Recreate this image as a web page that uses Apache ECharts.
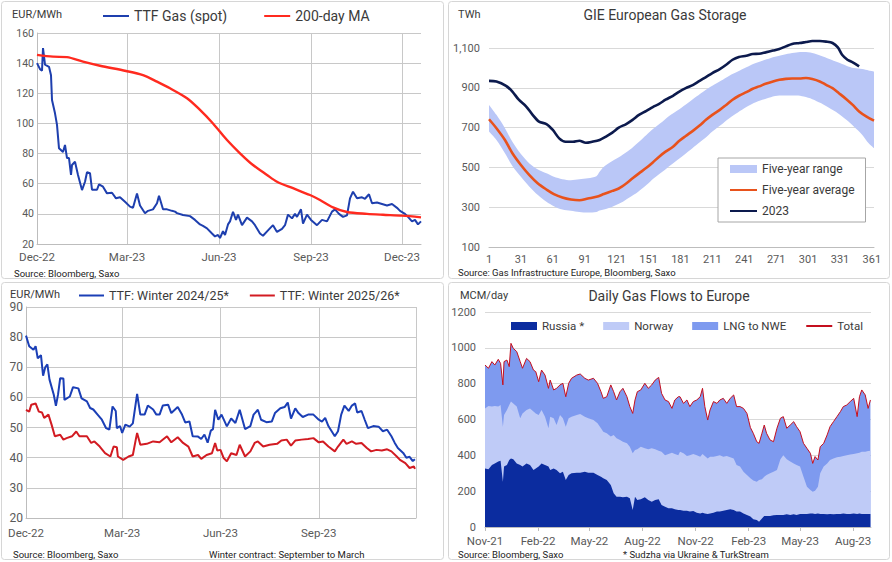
<!DOCTYPE html>
<html><head><meta charset="utf-8">
<script src="https://cdn.jsdelivr.net/npm/echarts@6/dist/echarts.min.js"></script>
<style>html,body{margin:0;padding:0;background:#fff}#c{width:892px;height:562px}</style>
</head><body><div id="c"></div>
<script>
// ---------- Panel 1: TTF spot vs 200-day MA (x = days since 1 Dec 2022) ----------
const p1TickDays = [0, 90, 182, 274, 365];
const p1TickLabels = ['Dec-22', 'Mar-23', 'Jun-23', 'Sep-23', 'Dec-23'];
const ttfSpot = [[0,140],[3,136],[5,135],[6,150],[8,139],[12,137.6],[14,132],[15,115.5],[18,106.7],[20,99],[22,83.5],[26,81],[28,85.7],[30,77],[32,77],[34,65.8],[35,72.4],[38,74.6],[41,65.8],[45,55.8],[48,61.3],[50,67.6],[53,67],[55,56],[60,56],[62,59.6],[66,58],[70,53.6],[75,54],[79,50.3],[83,51],[88,48],[93,44.8],[96,44],[100,53.5],[103,45.5],[108,40.4],[111,42],[116,43],[120,47],[122,52],[126,43],[130,43],[135,42],[138,41.5],[140,40.5],[146,39.2],[153,38.5],[158,36],[163,33],[166,32],[170,30.4],[175,27],[178,25],[181,26],[183,24],[186,28.5],[188,26],[191,33],[193,35],[196,41.4],[199,36],[201,39.5],[205,32.5],[210,37.5],[215,35],[218,32.5],[223,27],[226,25.5],[231,29],[236,32.5],[240,28],[245,30],[248,32.5],[251,39.5],[255,37],[258,40],[260,38],[264,43],[266,33.5],[270,39.5],[274,36],[280,32.5],[285,36],[290,35],[295,41.5],[298,43],[302,40],[306,38],[310,39],[313,50.3],[316,54.7],[320,50.3],[325,51],[328,50],[332,53],[335,47],[340,47.5],[345,46.5],[350,45.5],[355,46.5],[360,44],[363,42],[368,40],[371,38],[375,35],[378,36],[381,33],[384,35]];
const ma200 = [[0,145.5],[16,144.3],[30,144],[46,141],[63,138.3],[89,134.8],[106,132],[120,127.7],[133,123.3],[150,116.7],[163,109],[176,100],[190,89],[203,80.2],[216,72.4],[230,65.8],[240,61.3],[256,57],[273,52.5],[283,49.2],[296,44.3],[310,41.2],[330,40],[346,39.4],[365,38.8],[384,37.7]];

// ---------- Panel 2: GIE storage (x = day of year) ----------
const storageTicks = [1,31,61,91,121,151,181,211,241,271,301,331,361];
const bandDays = [1,8,16,23,31,39,47,55,62,70,78,86,94,102,105,109,117,125,133,141,149,156,164,172,180,188,196,204,211,219,227,235,243,250,258,266,274,282,290,297,305,313,321,329,337,344,352,358,363];
const rangeHigh = [814,764,697,629,567,520,490,470,453,441,436,440,445,456,478,503,532,557,587,624,663,697,730,764,792,823,856,887,910,935,961,982,1003,1021,1036,1050,1061,1071,1078,1080,1075,1061,1045,1028,1011,999,994,987,982];
const rangeLow = [680,638,571,507,453,403,361,327,305,288,282,276,273,276,283,288,302,322,349,377,411,445,478,512,545,579,613,646,680,713,747,776,803,823,840,853,861,861,861,856,843,823,798,772,739,705,663,621,596];
const fiveYearAvg = [[1,742],[8,697],[16,638],[23,571],[31,512],[39,461],[47,419],[55,389],[62,366],[70,349],[78,339],[86,335],[94,344],[102,352],[109,366],[117,382],[123,394],[130,419],[136,445],[142,470],[149,498],[155,525],[161,554],[167,579],[174,604],[180,634],[186,658],[193,685],[199,710],[205,739],[211,764],[218,789],[224,814],[230,840],[236,860],[243,878],[249,895],[255,907],[261,920],[268,932],[274,940],[280,945],[286,947],[293,947],[299,949],[305,944],[312,932],[318,915],[324,898],[330,873],[337,843],[343,814],[349,781],[356,755],[363,735]];
const storage2023 = [[1,935],[8,932],[17,910],[23,881],[29,840],[36,806],[42,764],[48,730],[55,718],[61,688],[67,646],[73,629],[80,629],[86,634],[92,624],[98,629],[105,638],[111,655],[117,675],[123,700],[130,718],[136,739],[142,764],[149,784],[155,803],[161,819],[167,840],[174,860],[180,881],[186,898],[193,915],[199,935],[205,954],[211,974],[218,994],[224,1016],[230,1041],[236,1055],[243,1061],[249,1070],[255,1071],[261,1078],[268,1087],[274,1095],[280,1108],[286,1120],[293,1125],[299,1130],[305,1135],[312,1135],[318,1132],[324,1125],[329,1103],[333,1066],[338,1041],[343,1028],[349,1008]];

// ---------- Panel 3: TTF winter contracts (x = days since 1 Dec 2022) ----------
const p3GridDays = [0, 90, 182, 274, 365];
const p3TickDays = [0, 90, 182, 274];
const p3TickLabels = ['Dec-22', 'Mar-23', 'Jun-23', 'Sep-23'];
const winter2425 = [[0,80.5],[3,77],[7,75.8],[9,77],[11,73],[14,74],[16,67.2],[18,70],[20,71],[22,65.9],[26,60.9],[28,57.2],[30,61],[32,66.4],[35,66.3],[36,59.2],[41,60.3],[44,63.4],[49,63],[52,59.7],[57,58.7],[60,56.5],[63,56],[67,54.3],[71,52.6],[75,49.8],[78,49.3],[81,57],[84,55.5],[85,49.8],[88,50.5],[90,48.2],[93,51],[97,50.3],[100,51.4],[104,61.2],[107,54.3],[111,54.3],[114,57.3],[119,56],[122,54.3],[125,54.3],[128,57.3],[133,57.6],[136,54.8],[142,56.8],[146,54.3],[149,51.7],[153,52],[156,47.1],[161,47],[164,46.2],[167,47.7],[170,45],[173,49],[175,49.5],[177,55.9],[180,52.6],[183,54.3],[188,50.4],[192,53],[196,51.5],[200,55.9],[205,49.5],[210,50.5],[213,54.3],[217,55.9],[220,52.6],[225,51.8],[230,52],[233,54.8],[238,56.4],[242,56.8],[245,58.3],[248,53],[252,56.4],[255,54.8],[259,53.5],[264,54.3],[269,54.3],[274,52.6],[277,52],[280,53.2],[283,50.5],[289,47.1],[292,48.8],[295,54.3],[298,57.3],[302,55.5],[305,57.3],[308,58],[310,55],[314,55.5],[317,52.6],[320,49.8],[325,50.5],[330,50.3],[334,48.8],[338,49.3],[342,47.1],[345,45],[348,43.2],[353,41.6],[356,40],[359,40.3],[362,38.9],[364,39.5]];
const winter2526 = [[0,55.9],[3,55.3],[5,57.6],[9,58],[12,55.3],[15,55],[17,53.2],[21,54.3],[24,50.9],[27,47.1],[32,47.6],[35,46],[38,46.5],[43,47.1],[47,48.7],[50,47.1],[57,47.1],[61,44.9],[64,45.4],[69,43.7],[74,41.5],[79,40.4],[82,43.7],[85,43.5],[86,40.4],[91,39.3],[96,40.4],[100,40.9],[103,46.5],[104,48.2],[107,44.3],[113,44.6],[119,45.4],[125,45.1],[132,47.1],[136,45.1],[142,46.8],[147,44.9],[152,43.7],[156,40.4],[161,40.9],[164,39.6],[169,40.9],[174,41.5],[177,44.9],[179,42.4],[182,42.6],[185,39.9],[188,38.8],[192,41.5],[197,40.9],[200,44.3],[205,40.4],[210,42.1],[214,44.9],[217,45.4],[222,43.7],[228,44.3],[235,44.6],[239,45.7],[244,46],[248,44],[252,45.7],[258,46],[264,46.2],[269,46.5],[274,45.1],[278,45.4],[283,43.7],[289,42.1],[292,43.7],[297,46],[300,44.6],[305,45.4],[309,44.6],[314,44.9],[319,43.2],[323,42.1],[328,42.6],[333,42.4],[338,42.8],[342,42.1],[347,40.4],[350,39.3],[355,38.2],[359,36.6],[363,37.1],[364,36.3]];

// ---------- Panel 4: daily gas flows (x = days since 1 Nov 2021) ----------
const flowTickDays = [0, 92, 181, 273, 365, 457, 546, 638];
const flowTickLabels = ['Nov-21','Feb-22','May-22','Aug-22','Nov-22','Feb-23','May-23','Aug-23'];
const flowDays = [0,6,12,17,23,27,31,33,38,42,45,49,55,61,65,72,78,84,88,93,98,104,110,113,119,124,130,135,140,145,150,159,165,173,179,188,195,201,205,211,218,223,228,234,239,246,251,256,260,264,270,277,283,289,295,301,306,312,318,324,329,335,
  338,344,350,355,361,367,373,377,381,386,390,396,402,407,413,419,425,431,436,442,448,454,460,465,471,475,480,484,488,494,500,506,512,517,523,529,535,540,546,552,558,564,568,572,577,581,587,593,598,604,610,616,621,627,633,639,645,649,653,659,664,668];
const flowRussia = [327,322,346,355,365,370,253,337,346,374,383,378,355,346,337,355,346,318,327,337,355,346,337,318,327,318,300,309,262,290,300,303,303,309,303,303,290,281,272,262,234,188,169,169,166,169,160,95,169,151,155,166,151,141,151,155,123,113,104,104,99,95,
  95,91,91,86,89,80,76,80,76,73,76,80,86,86,91,95,99,95,86,86,76,67,58,43,39,30,48,61,61,61,65,67,67,67,71,67,71,67,73,73,73,76,76,73,76,73,73,71,73,71,73,73,76,73,73,76,73,76,73,73,73,73];
const flowNorway = [335,353,326,320,307,311,307,288,307,307,317,312,317,261,297,298,316,326,307,288,298,270,214,298,280,252,325,298,298,317,316,322,328,307,304,294,289,270,260,261,271,326,326,317,310,298,288,316,261,283,293,273,283,298,283,271,297,287,303,311,308,305,
  325,320,305,314,318,320,316,327,320,310,316,312,310,314,301,301,290,288,260,251,233,223,214,216,214,232,218,220,229,239,244,251,311,333,307,298,284,279,264,208,152,130,121,130,149,227,264,284,301,312,316,319,320,327,332,331,338,339,347,347,351,353];
const flowLng = [242,211,251,229,264,232,233,298,279,214,325,307,307,316,252,288,261,232,233,186,223,232,223,204,158,204,168,195,167,195,214,223,223,214,213,233,223,204,186,204,288,241,214,269,298,260,224,223,279,321,317,363,340,354,386,409,326,309,293,247,302,327,
  307,279,313,272,293,309,335,367,276,214,261,308,294,309,326,294,329,354,326,335,353,344,283,264,223,205,257,288,233,186,167,233,229,216,173,204,233,214,195,186,214,205,158,190,149,148,130,159,186,205,227,252,276,281,295,311,205,312,345,317,238,283];

// ---------- build ----------
const FONT = "Roboto, 'Noto Sans', sans-serif";
const TXT = '#3a3a3a';
const AXC = '#595959';
const GRID_A = '#c8c8c8';
const GRID_B = '#d9d9d9';
const AXLINE = '#bdbdbd';

const zip = (xs, ys) => xs.map((x, i) => [x, ys[i]]);
const lbl = (days, labels) => v => { const i = days.indexOf(v); return i < 0 ? '' : labels[i]; };

// cumulative tops of the flow layers (each layer drawn as an area down to the axis)
const topRussia = flowRussia.slice();
const topNorway = flowRussia.map((r, i) => r + flowNorway[i]);
const topTotal = topNorway.map((n, i) => n + flowLng[i]);

const chart = echarts.init(document.getElementById('c'), null, {renderer: 'svg'});

const txt = (text, x, y, size, align, color) => ({
  type: 'text', x: x, y: y, silent: true,
  style: {text: text, fontSize: size, fontFamily: FONT, fill: color || TXT,
          textAlign: align || 'left', align: align || 'left',
          textVerticalAlign: 'middle', verticalAlign: 'middle'}
});
const box = (x, y, w, h) => ({
  type: 'rect', silent: true, shape: {x: x, y: y, width: w, height: h, r: 3},
  style: {fill: 'none', stroke: '#d6d6d6', lineWidth: 1}
});

const lineSeries = (name, data, color, width, xi, extra) => Object.assign({
  name: name, type: 'line', data: data, xAxisIndex: xi, yAxisIndex: xi,
  symbol: 'none', showSymbol: false, color: color,
  lineStyle: {color: color, width: width}, emphasis: {disabled: true}, silent: true
}, extra || {});

const areaSeries = (name, data, color, xi, extra) => Object.assign({
  name: name, type: 'line', data: data, xAxisIndex: xi, yAxisIndex: xi,
  symbol: 'none', showSymbol: false, color: color,
  lineStyle: {width: 0, color: color}, areaStyle: {color: color, opacity: 1},
  emphasis: {disabled: true}, silent: true
}, extra || {});

const legendBase = {selectedMode: false, padding: 0, itemStyle: {opacity: 0}};

const option = {
  animation: false,
  backgroundColor: '#ffffff',
  textStyle: {fontFamily: FONT},
  grid: [
    {left: 37, top: 33, width: 384, height: 211},
    {left: 489, top: 48, width: 385, height: 199},
    {left: 26, top: 307, width: 390, height: 211},
    {left: 485, top: 312, width: 386, height: 215}
  ],
  xAxis: [
    {gridIndex: 0, type: 'value', min: 0, max: 384,
     axisLine: {show: true, onZero: false, lineStyle: {color: AXLINE}},
     axisTick: {show: false, customValues: p1TickDays},
     axisLabel: {customValues: p1TickDays, formatter: lbl(p1TickDays, p1TickLabels), fontSize: 11.5, color: AXC, margin: 7, fontFamily: FONT},
     splitLine: {show: true, lineStyle: {color: GRID_A}}},
    {gridIndex: 1, type: 'value', min: 1, max: 363,
     axisLine: {show: true, onZero: false, lineStyle: {color: AXLINE}},
     axisTick: {show: false, customValues: storageTicks},
     axisLabel: {customValues: storageTicks, fontSize: 11, color: AXC, margin: 7, fontFamily: FONT},
     splitLine: {show: false}},
    {gridIndex: 2, type: 'value', min: 0, max: 365,
     axisLine: {show: true, onZero: false, lineStyle: {color: AXLINE}},
     axisTick: {show: false, customValues: p3GridDays},
     axisLabel: {customValues: p3TickDays, formatter: lbl(p3TickDays, p3TickLabels), fontSize: 11.5, color: AXC, margin: 9, fontFamily: FONT},
     splitLine: {show: true, lineStyle: {color: GRID_A}}},
    {gridIndex: 3, type: 'value', min: 0, max: 669,
     axisLine: {show: true, onZero: false, lineStyle: {color: AXLINE}},
     axisTick: {show: true, customValues: flowTickDays, length: 4, lineStyle: {color: AXLINE}},
     axisLabel: {customValues: flowTickDays, formatter: lbl(flowTickDays, flowTickLabels), fontSize: 11.5, color: AXC, margin: 8, fontFamily: FONT},
     splitLine: {show: false}}
  ],
  yAxis: [
    {gridIndex: 0, type: 'value', min: 20, max: 160, interval: 20,
     axisLine: {show: true, lineStyle: {color: AXLINE}}, axisTick: {show: false},
     axisLabel: {fontSize: 10.5, color: AXC, margin: 3, fontFamily: FONT},
     splitLine: {lineStyle: {color: GRID_A}}},
    {gridIndex: 1, type: 'value', min: 100, max: 1100, interval: 200,
     axisLine: {show: false}, axisTick: {show: false},
     axisLabel: {fontSize: 11, color: AXC, margin: 9, fontFamily: FONT, formatter: v => v.toLocaleString('en-US')},
     splitLine: {lineStyle: {color: GRID_B}}},
    {gridIndex: 2, type: 'value', min: 20, max: 90, interval: 10,
     axisLine: {show: true, lineStyle: {color: AXLINE}}, axisTick: {show: false},
     axisLabel: {fontSize: 12, color: AXC, margin: 3, fontFamily: FONT},
     splitLine: {lineStyle: {color: GRID_A}}},
    {gridIndex: 3, type: 'value', min: 0, max: 1200, interval: 200,
     axisLine: {show: false}, axisTick: {show: false},
     axisLabel: {fontSize: 11, color: AXC, margin: 9, fontFamily: FONT, formatter: v => String(v)},
     splitLine: {lineStyle: {color: GRID_B}}}
  ],
  legend: [
    Object.assign({}, legendBase, {
      data: ['TTF Gas (spot)', '200-day MA'], left: 102, top: 9,
      itemWidth: 26, itemHeight: 12, itemGap: 36,
      textStyle: {fontSize: 14, color: TXT, fontFamily: FONT}}),
    Object.assign({}, legendBase, {
      data: [{name: 'Five-year range', icon: 'rect', itemStyle: {opacity: 1}}, 'Five-year average', '2023'],
      orient: 'vertical', left: 718, top: 158, padding: [5, 11, 5, 11],
      itemWidth: 27, itemHeight: 8, itemGap: 9,
      borderColor: '#a6a6a6', borderWidth: 1, backgroundColor: '#ffffff',
      textStyle: {fontSize: 12, color: TXT, fontFamily: FONT}}),
    Object.assign({}, legendBase, {
      data: ['TTF: Winter 2024/25*', 'TTF: Winter 2025/26*'], left: 78, top: 289,
      itemWidth: 25, itemHeight: 12, itemGap: 20,
      textStyle: {fontSize: 12.5, color: TXT, fontFamily: FONT}}),
    Object.assign({}, legendBase, {
      data: [{name: 'Russia *', icon: 'rect', itemStyle: {opacity: 1}},
             {name: 'Norway', icon: 'rect', itemStyle: {opacity: 1}},
             {name: 'LNG to NWE', icon: 'rect', itemStyle: {opacity: 1}}, 'Total'],
      left: 511, top: 320, itemWidth: 26, itemHeight: 8, itemGap: 19,
      textStyle: {fontSize: 11.5, color: TXT, fontFamily: FONT}})
  ],
  graphic: {elements: [
    box(1.5, 1.5, 442, 277), box(448.5, 1.5, 441, 277),
    box(1.5, 282.5, 442, 277), box(448.5, 282.5, 441, 277),
    txt('EUR/MWh', 12, 14, 11),
    txt('Source: Bloomberg, Saxo', 14, 273, 9.5, 'left', '#222'),
    txt('TWh', 458, 14, 11),
    txt('GIE European Gas Storage', 665, 15, 14, 'center'),
    txt('Source: Gas Infrastructure Europe, Bloomberg, Saxo', 458, 272, 9.5, 'left', '#222'),
    txt('EUR/MWh', 10, 294, 11),
    txt('Source: Bloomberg, Saxo', 13, 554, 9.5, 'left', '#222'),
    txt('Winter contract: September to March', 209, 554, 9.5, 'left', '#222'),
    txt('MCM/day', 460, 295, 11),
    txt('Daily Gas Flows to Europe', 669, 296, 14, 'center'),
    txt('Source: Bloomberg, Saxo', 458, 554, 9.5, 'left', '#222'),
    txt('* Sudzha via Ukraine & TurkStream', 623, 554, 9.5, 'left', '#222')
  ]},
  series: [
    lineSeries('TTF Gas (spot)', ttfSpot, '#1e3fae', 2, 0),
    lineSeries('200-day MA', ma200, '#ff2a1f', 2.4, 0, {smooth: 0.3}),

    // five-year range band: stacked (value dim first so the y values are the stacked ones)
    {name: 'range-base', type: 'line', xAxisIndex: 1, yAxisIndex: 1,
     data: bandDays.map((d, i) => [rangeLow[i], d]), encode: {x: 1, y: 0},
     stack: 'range', symbol: 'none', showSymbol: false, smooth: 0.3,
     lineStyle: {width: 0, opacity: 0}, emphasis: {disabled: true}, silent: true},
    areaSeries('Five-year range', bandDays.map((d, i) => [rangeHigh[i] - rangeLow[i], d]), '#bac7f7', 1,
     {encode: {x: 1, y: 0}, stack: 'range', smooth: 0.3}),
    lineSeries('Five-year average', fiveYearAvg, '#e8521c', 2.6, 1, {smooth: 0.3}),
    lineSeries('2023', storage2023, '#0c1a4d', 2.6, 1, {smooth: 0.3, clip: false}),

    lineSeries('TTF: Winter 2024/25*', winter2425, '#1b3fb6', 2, 2),
    lineSeries('TTF: Winter 2025/26*', winter2526, '#d21b22', 2, 2),

    areaSeries('LNG to NWE', zip(flowDays, topTotal), '#7e9aef', 3),
    areaSeries('Norway', zip(flowDays, topNorway), '#bfcbf7', 3),
    areaSeries('Russia *', zip(flowDays, topRussia), '#0b2c9f', 3),
    lineSeries('Total', zip(flowDays, topTotal), '#c40f1e', 1, 3)
  ]
};
chart.setOption(option);
</script></body></html>
